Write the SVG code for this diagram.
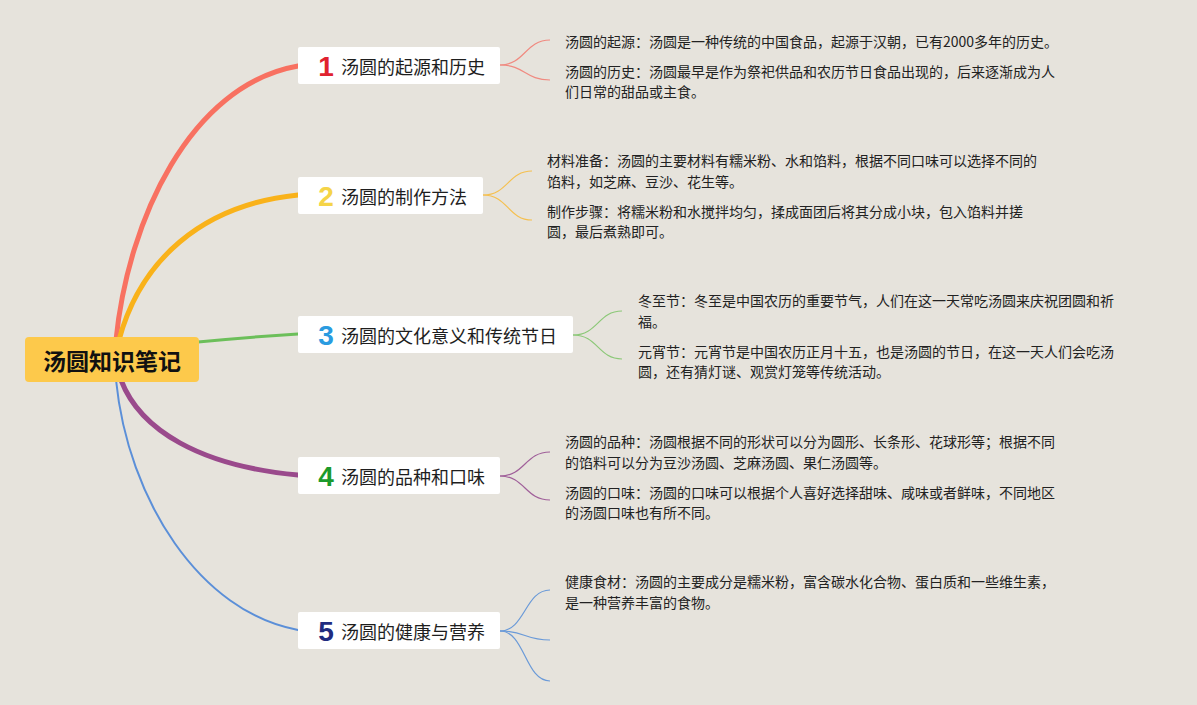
<svg xmlns="http://www.w3.org/2000/svg" width="1197" height="705" viewBox="0 0 1197 705">
<style>
.bg{fill:#e6e3dc}
.topic{fill:#ffffff}
.ttext{font-family:"Noto Sans CJK SC","Noto Sans",sans-serif;font-size:18px;fill:#1e1e1e;dominant-baseline:central}
.num{font-family:"Liberation Sans","Noto Sans",sans-serif;font-size:28px;font-weight:900;text-anchor:middle;dominant-baseline:central}
.sub{font-family:"Noto Sans CJK SC","Noto Sans",sans-serif;font-size:14px;fill:#222;dominant-baseline:central}
.c{fill:none;stroke-linecap:round}
</style>
<rect class="bg" x="0" y="0" width="1197" height="705"/>
<g id="connectors">
  <path class="c" d="M116,340 C128,220 190,85 298,66" stroke="#f87161" stroke-width="5"/>
  <path class="c" d="M119,340 C140,262 200,205 298,195" stroke="#f9b21a" stroke-width="5"/>
  <path class="c" d="M198,342 Q250,337 298,334" stroke="#6cbf5a" stroke-width="3"/>
  <path class="c" d="M121,380 C140,430 200,466 298,475" stroke="#9a4a8c" stroke-width="5"/>
  <path class="c" d="M116,380 C128,500 200,612 298,630" stroke="#5b8fd8" stroke-width="2"/>
  <g stroke="#f08a80" stroke-width="1.2" fill="none">
    <path d="M500,65 C525,65 525,40 550,40"/>
    <path d="M500,65 C525,65 525,80 550,80"/>
  </g>
  <g stroke="#f5c050" stroke-width="1.2" fill="none">
    <path d="M483,195 C508,195 508,171 532,171"/>
    <path d="M483,195 C508,195 508,220 532,220"/>
  </g>
  <g stroke="#8cc878" stroke-width="1.2" fill="none">
    <path d="M573,335 C598,335 598,311 622,311"/>
    <path d="M573,335 C598,335 598,359 622,359"/>
  </g>
  <g stroke="#a0609a" stroke-width="1.2" fill="none">
    <path d="M500,476 C525,476 525,452 550,452"/>
    <path d="M500,476 C525,476 525,500 550,500"/>
  </g>
  <g stroke="#6a9ad8" stroke-width="1.2" fill="none">
    <path d="M500,631 C525,631 525,590 550,590"/>
    <path d="M500,631 C525,631 525,640 550,640"/>
    <path d="M500,631 C525,631 525,681 550,681"/>
  </g>
</g>
<g id="root">
  <rect x="25" y="337" width="174" height="45" rx="4" fill="#fdc94b"/>
  <text x="112" y="360" text-anchor="middle" dominant-baseline="central" font-family="Noto Sans CJK SC, Noto Sans, sans-serif" font-size="23" font-weight="bold" fill="#111">汤圆知识笔记</text>
</g>
<g id="topic1">
  <rect class="topic" x="298" y="47" width="202" height="37" rx="2"/>
  <text class="num" x="326" y="66" fill="#e0222f">1</text>
  <text class="ttext" x="341" y="66">汤圆的起源和历史</text>
</g>
<g id="topic2">
  <rect class="topic" x="298" y="177" width="185" height="37" rx="2"/>
  <text class="num" x="326" y="196" fill="#f5d448">2</text>
  <text class="ttext" x="341" y="196">汤圆的制作方法</text>
</g>
<g id="topic3">
  <rect class="topic" x="298" y="316" width="275" height="37" rx="2"/>
  <text class="num" x="326" y="335" fill="#2a9be0">3</text>
  <text class="ttext" x="341" y="335">汤圆的文化意义和传统节日</text>
</g>
<g id="topic4">
  <rect class="topic" x="298" y="457" width="202" height="37" rx="2"/>
  <text class="num" x="326" y="476" fill="#1c9a2c">4</text>
  <text class="ttext" x="341" y="476">汤圆的品种和口味</text>
</g>
<g id="topic5">
  <rect class="topic" x="298" y="612" width="202" height="37" rx="2"/>
  <text class="num" x="326" y="631" fill="#1f2c80">5</text>
  <text class="ttext" x="341" y="631">汤圆的健康与营养</text>
</g>
<g id="sub1a"><text class="sub" x="565" y="41">汤圆的起源：汤圆是一种传统的中国食品，起源于汉朝，已有2000多年的历史。</text></g>
<g id="sub1b"><text class="sub" x="565" y="71">汤圆的历史：汤圆最早是作为祭祀供品和农历节日食品出现的，后来逐渐成为人</text><text class="sub" x="565" y="91">们日常的甜品或主食。</text></g>
<g id="sub2a"><text class="sub" x="547" y="160">材料准备：汤圆的主要材料有糯米粉、水和馅料，根据不同口味可以选择不同的</text><text class="sub" x="547" y="181">馅料，如芝麻、豆沙、花生等。</text></g>
<g id="sub2b"><text class="sub" x="547" y="211">制作步骤：将糯米粉和水搅拌均匀，揉成面团后将其分成小块，包入馅料并搓</text><text class="sub" x="547" y="231">圆，最后煮熟即可。</text></g>
<g id="sub3a"><text class="sub" x="638" y="300">冬至节：冬至是中国农历的重要节气，人们在这一天常吃汤圆来庆祝团圆和祈</text><text class="sub" x="638" y="321">福。</text></g>
<g id="sub3b"><text class="sub" x="638" y="351">元宵节：元宵节是中国农历正月十五，也是汤圆的节日，在这一天人们会吃汤</text><text class="sub" x="638" y="371">圆，还有猜灯谜、观赏灯笼等传统活动。</text></g>
<g id="sub4a"><text class="sub" x="565" y="441">汤圆的品种：汤圆根据不同的形状可以分为圆形、长条形、花球形等；根据不同</text><text class="sub" x="565" y="462">的馅料可以分为豆沙汤圆、芝麻汤圆、果仁汤圆等。</text></g>
<g id="sub4b"><text class="sub" x="565" y="492">汤圆的口味：汤圆的口味可以根据个人喜好选择甜味、咸味或者鲜味，不同地区</text><text class="sub" x="565" y="512">的汤圆口味也有所不同。</text></g>
<g id="sub5a"><text class="sub" x="565" y="581">健康食材：汤圆的主要成分是糯米粉，富含碳水化合物、蛋白质和一些维生素，</text><text class="sub" x="565" y="602">是一种营养丰富的食物。</text></g>
</svg>
